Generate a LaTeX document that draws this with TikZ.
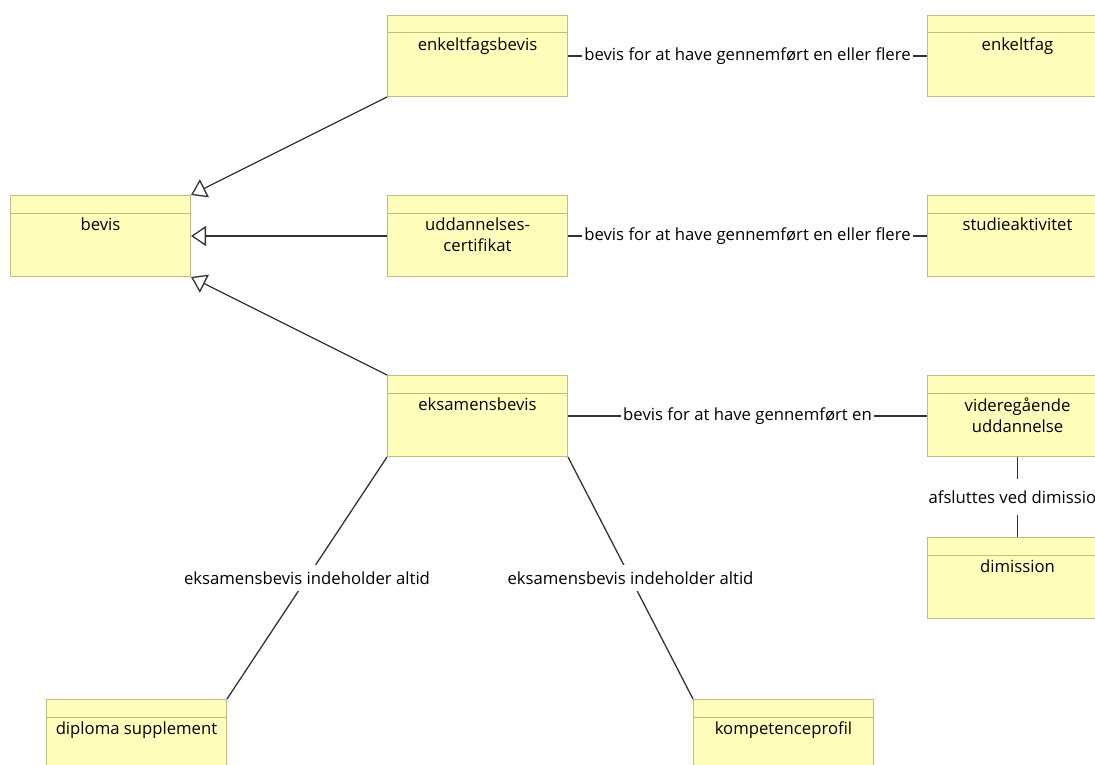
\documentclass[tikz,border=0pt]{standalone}
\usepackage{fontspec}
\setmainfont{Open Sans}
\usetikzlibrary{arrows.meta}

\definecolor{classfill}{HTML}{FFFFBB}
\definecolor{classedge}{HTML}{BDBD80}
\definecolor{wirecol}{HTML}{333333}

\tikzset{
  classbox/.style={rectangle, draw=classedge, fill=classfill, line width=1pt,
    minimum width=180pt, minimum height=81pt, inner sep=0pt, anchor=north west},
  classname/.style={anchor=north, inner sep=0pt, align=center,
    font=\fontsize{16.7}{21}\selectfont},
  wire/.style={draw=wirecol, line width=1.3pt},
  generalize/.style={wire, -{Triangle[open, length=15pt, width=20pt, fill=white]}},
  rolelabel/.style={fill=white, inner xsep=2pt, inner ysep=7pt, text=black,
    font=\fontsize{16.7}{21}\selectfont},
}

% a class: box, compartment line under the header, centred name
\newcommand\umlclass[4]{% name, left x, top y, text
  \node[classbox] (#1) at (#2pt,-#3pt) {};
  \draw[classedge, line width=1pt] ([yshift=-18pt]#1.north west) -- ([yshift=-18pt]#1.north east);
  \node[classname] (#1-name) at ([yshift=-23pt]#1.north) {#4};
}

\begin{document}
\begin{tikzpicture}[x=1pt, y=1pt]
  \useasboundingbox (0,0) rectangle (1095,-765);
  \clip (0,0) rectangle (1095,-765);

  \umlclass{bevis}{10}{195}{bevis}
  \umlclass{enkbevis}{387}{15}{enkeltfagsbevis}
  \umlclass{uddcert}{387}{195}{uddannelses-\\certifikat}
  \umlclass{eksbevis}{387}{375}{eksamensbevis}
  \umlclass{enkfag}{927}{15}{enkeltfag}
  \umlclass{studakt}{927}{195}{studieaktivitet}
  \umlclass{videreg}{927}{375}{videregående\\uddannelse}
  \umlclass{dimission}{927}{537}{dimission}
  \umlclass{diploma}{46}{699}{diploma supplement}
  \umlclass{kompetence}{693}{699}{kompetenceprofil}

  % generalisations
  \draw[generalize] (enkbevis.south west) -- (bevis.north east);
  \draw[generalize] (uddcert.west) -- (bevis.east);
  \draw[generalize] (eksbevis.north west) -- (bevis.south east);

  % associations
  \draw[wire] (enkbevis.east) -- node[rolelabel] {bevis for at have gennemført en eller flere} (enkfag.west);
  \draw[wire] (uddcert.east) -- node[rolelabel] {bevis for at have gennemført en eller flere} (studakt.west);
  \draw[wire] (eksbevis.east) -- node[rolelabel] {bevis for at have gennemført en} (videreg.west);
  \draw[wire] (videreg.south) -- node[rolelabel, inner ysep=12pt] {afsluttes ved dimission} (dimission.north);
  \draw[wire] (eksbevis.south west) -- node[rolelabel] {eksamensbevis indeholder altid} (diploma.north east);
  \draw[wire] (eksbevis.south east) -- node[rolelabel] {eksamensbevis indeholder altid} (kompetence.north west);
\end{tikzpicture}
\end{document}
